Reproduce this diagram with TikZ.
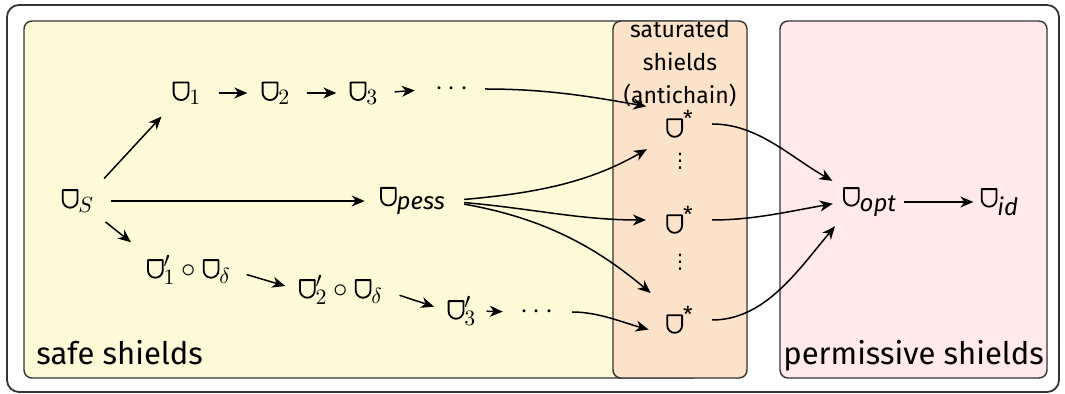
\documentclass[tikz,border=0pt]{standalone}
\usepackage{fontspec}
\setmainfont{Fira Sans}
\newfontfamily\dejavu{DejaVu Sans}
\DeclareMathSizes{14}{14.4}{10.95}{8}
\usetikzlibrary{arrows.meta}
\newcommand{\shd}{\tikz[baseline=0pt]\draw[line width=0.9pt,line join=round,solid] (0pt,8.8pt) -- (0pt,3.7pt) arc[start angle=180,end angle=360,radius=3.7pt] -- (7.4pt,8.8pt) -- cycle;}
\newcommand{\itsub}[1]{\mbox{\fontsize{12}{12}\selectfont\itshape #1}}
\definecolor{safecol}{HTML}{FEFAD8}
\definecolor{satcol}{HTML}{FCE2C8}
\definecolor{permcol}{HTML}{FFE9EB}
\definecolor{edgecol}{HTML}{333333}
\begin{document}
\begin{tikzpicture}[x=0.5pt,y=0.5pt,
  box/.style={draw=edgecol,line width=0.7pt,rounded corners=4pt},
  lbl/.style={font=\fontsize{15.5}{18}\selectfont,inner sep=0pt,anchor=base west},
  m/.style={font=\fontsize{14}{16}\selectfont,inner sep=0pt},
  vd/.style={font=\dejavu\fontsize{10}{12}\selectfont,inner sep=0pt},
  arr/.style={-{Stealth[length=6.5pt,width=5.5pt,inset=2pt]},line width=0.75pt}]
\useasboundingbox (0,0) rectangle (1065,-394);
\draw[line width=0.9pt,rounded corners=6pt,draw=edgecol,fill=white] (7,-5) rectangle (1059,-392);
\draw[box,fill=safecol] (24,-21) rectangle (700,-378);
\draw[box,fill=satcol] (613,-21) rectangle (747,-378);
\draw[box,fill=permcol] (780,-21) rectangle (1047,-378);
\node[lbl] (lsafe) at (36,-365) {safe shields};
\node[lbl] (lperm) at (783,-365) {permissive shields};
\node[font=\fontsize{11.5}{16.5}\selectfont,align=center,inner sep=0pt] (lsat) at (680,-64) {saturated\\shields\\(antichain)};
% nodes
\node[m] (nS) at (78,-201) {$\shd_S$};
\node[m] (n1) at (187,-93) {$\shd_1$};
\node[m] (n2) at (276,-93) {$\shd_2$};
\node[m] (n3) at (364,-93) {$\shd_3$};
\node[m] (d1) at (452,-89) {$\cdots$};
\node[m] (pess) at (413,-201) {$\shd_{\itsub{pess}}$};
\node[m] (p1) at (189,-270) {$\shd'_1\circ\shd_\delta$};
\node[m] (p2) at (341,-290) {$\shd'_2\circ\shd_\delta$};
\node[m] (p3) at (462,-311) {$\shd'_3$};
\node[m] (d2) at (537,-312) {$\cdots$};
\node[m] (s1) at (680,-124) {\shd\textsuperscript{*}};
\node[vd] (v1) at (680,-161) {⋮};
\node[m] (s2) at (680,-220) {\shd\textsuperscript{*}};
\node[vd] (v2) at (680,-262) {⋮};
\node[m] (s3) at (680,-320) {\shd\textsuperscript{*}};
\node[m] (opt) at (870,-202) {$\shd_{\itsub{opt}}$};
\node[m] (id) at (1000,-202) {$\shd_{\itsub{id}}$};
% connectors
\draw[arr,shorten <=7pt,shorten >=8pt] (nS.north east) -- (n1.south west);
\draw[arr,shorten <=8pt,shorten >=7.5pt] (nS.east) -- (pess.west);
\draw[arr,shorten <=7pt,shorten >=10pt] (nS.south east) -- (p1.north west);
\draw[arr,shorten <=8.5pt,shorten >=7pt] (n1.east) -- (n2.west);
\draw[arr,shorten <=8pt,shorten >=6.5pt] (n2.east) -- (n3.west);
\draw[arr,shorten <=8pt,shorten >=10pt] (n3.east) -- (d1.west);
\draw[arr,shorten <=8pt,shorten >=7pt] (p1.east) -- (p2.west);
\draw[arr,shorten <=8.5pt,shorten >=7pt] (p2.east) -- (p3.west);
\draw[arr,shorten <=5pt,shorten >=8.5pt] (p3.east) -- (d2.west);
\draw[arr,shorten <=8pt,shorten >=10pt] (d1.east) to[out=0,in=170] (s1.north west);
\draw[arr,shorten <=9pt,shorten >=11pt] (pess.east) to[out=5,in=210] (s1.south west);
\draw[arr,shorten <=9pt,shorten >=10pt] (pess.east) to[out=-5,in=180] (s2.west);
\draw[arr,shorten <=9pt,shorten >=10pt] (pess.east) to[out=-10,in=140] (s3.north west);
\draw[arr,shorten <=9pt,shorten >=9pt] (d2.east) to[out=0,in=165] (s3.south west);
\draw[arr,shorten <=9pt,shorten >=6pt] (s1.east) to[out=0,in=150] (opt.north west);
\draw[arr,shorten <=9pt,shorten >=5pt] (s2.east) to[out=0,in=190] (opt.west);
\draw[arr,shorten <=9pt,shorten >=6pt] (s3.east) to[out=0,in=230] (opt.south west);
\draw[arr,shorten <=3.5pt,shorten >=3.5pt] (opt.east) -- (id.west);
\end{tikzpicture}
\end{document}
